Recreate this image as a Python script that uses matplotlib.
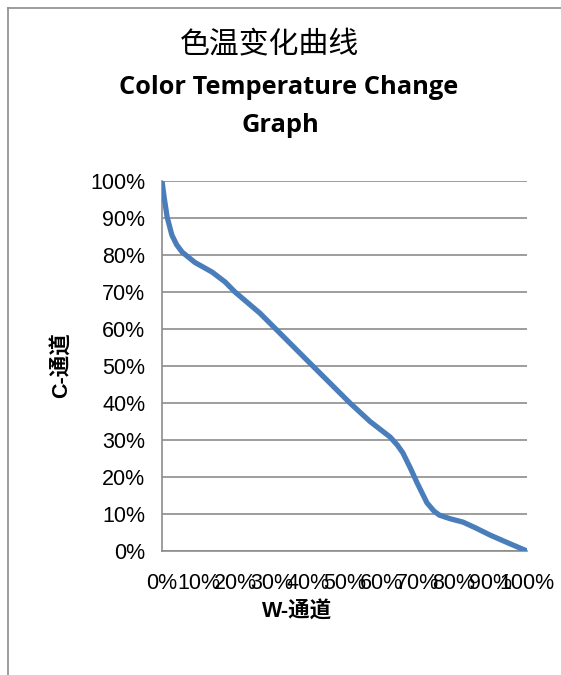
import matplotlib.pyplot as plt
from matplotlib.lines import Line2D

plt.rcParams['font.family'] = ['Liberation Sans', 'Noto Sans CJK SC']

# W-通道 (%) and C-通道 (%)
w_pct = [0, 0.6, 1.4, 2.7, 4, 5.5, 9, 13.7, 17.3, 20, 26.8, 33, 40.5, 46,
         51.5, 57, 62.5, 64.5, 66, 68, 69.9, 72.6, 74.5, 76, 79, 82.5, 86,
         89.9, 95, 100]
c_pct = [100, 95.5, 90.3, 85.4, 82.8, 80.8, 78, 75.4, 72.7, 70, 64.3, 58.2,
         50.8, 45.4, 40, 35, 30.8, 28.6, 26.5, 22.5, 18.4, 13, 10.8, 9.7, 8.7,
         7.8, 6.2, 4.3, 2.1, 0]
ticks = list(range(0, 101, 10))
tick_labels = ['%d%%' % t for t in ticks]

fig = plt.figure(figsize=(5.61, 6.75), dpi=100)
ax = fig.add_axes([162 / 561, 1 - 551 / 675, 365 / 561, 370 / 675])

ax.plot(w_pct, c_pct, color='#4a7ebb', linewidth=3.8, solid_capstyle='round',
        solid_joinstyle='round', zorder=3)

ax.set_xlim(0, 100)
ax.set_ylim(0, 100)
ax.set_xticks(ticks)
ax.set_xticklabels(tick_labels, fontsize=15.5)
ax.set_yticks(ticks)
ax.set_yticklabels(tick_labels, fontsize=15.5)
ax.tick_params(length=0, pad=12)
ax.tick_params(axis='x', pad=16)
ax.yaxis.grid(True, color='#8c8c8c', linewidth=1.2)
for s in ['top', 'right']:
    ax.spines[s].set_visible(False)
for s in ['left', 'bottom']:
    ax.spines[s].set_color('#8c8c8c')
    ax.spines[s].set_linewidth(1.2)

# titles
fig.text(269 / 561, 1 - 45 / 675, '色温变化曲线', ha='center', va='center',
         fontsize=21.5, family=['Noto Sans CJK SC'])
fig.text(289 / 561, 1 - 87 / 675, 'Color Temperature Change', ha='center',
         va='center', fontsize=18.3, fontweight='bold', family=['Open Sans'])
fig.text(280 / 561, 1 - 125 / 675, 'Graph', ha='center', va='center',
         fontsize=18.3, fontweight='bold', family=['Open Sans'])

# axis labels
fig.text(62 / 561, 1 - 365 / 675, 'C-通道', rotation=90, ha='center',
         va='center', fontsize=15.5, fontweight='bold')
fig.text(297 / 561, 1 - 612 / 675, 'W-通道', ha='center', va='center',
         fontsize=15.5, fontweight='bold')

# chart border (left and top visible)
fig.add_artist(Line2D([8 / 561, 8 / 561], [0, 1 - 8 / 675],
                      transform=fig.transFigure, color='#8c8c8c', linewidth=1.2))
fig.add_artist(Line2D([8 / 561, 1], [1 - 8 / 675, 1 - 8 / 675],
                      transform=fig.transFigure, color='#8c8c8c', linewidth=1.2))

fig.savefig('out.png', dpi=100)
